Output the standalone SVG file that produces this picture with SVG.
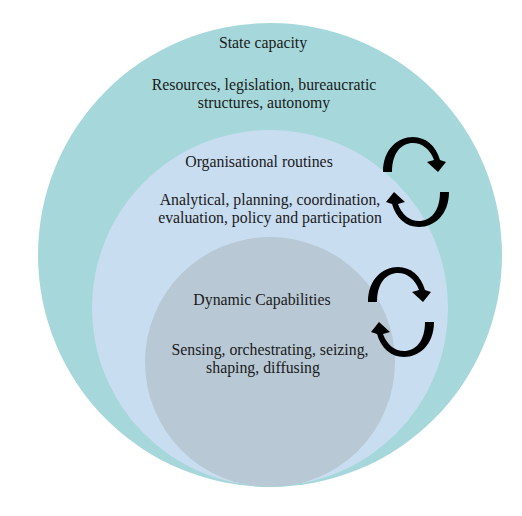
<svg xmlns="http://www.w3.org/2000/svg" width="522" height="516" viewBox="0 0 522 516">
<style>
.t{font-family:'Liberation Serif','DejaVu Serif',serif;font-size:15.8px;fill:#1a1a1a;text-anchor:middle}
.arr{fill:#000}
</style>
<defs>
<g id="cycle">
<path class="arr" d="M -33,-10 C -33,-33 -18,-45 -3,-45 C 10,-45 20,-36 24,-22 L 30,-20 L 22,-10 L 11,-20 L 18,-22 C 14,-33 6,-39 -3,-39 C -14,-39 -24,-30 -24,-10 Z"/>
<path class="arr" transform="rotate(180)" d="M -33,-10 C -33,-33 -18,-45 -3,-45 C 10,-45 20,-36 24,-22 L 30,-20 L 22,-10 L 11,-20 L 18,-22 C 14,-33 6,-39 -3,-39 C -14,-39 -24,-30 -24,-10 Z"/>
</g>
</defs>
<rect width="522" height="516" fill="#fff"/>
<g id="state-capacity">
<circle cx="270" cy="255" r="232" fill="#A6D8DB"/>
<text class="t" font-family="Liberation Serif, serif" x="263" y="48">State capacity</text>
<text class="t" font-family="Liberation Serif, serif" x="264" y="90">Resources, legislation, bureaucratic</text>
<text class="t" font-family="Liberation Serif, serif" x="264" y="108">structures, autonomy</text>
</g>
<g id="organisational-routines">
<circle cx="270" cy="308" r="178" fill="#C9DDF1"/>
<text class="t" font-family="Liberation Serif, serif" x="259" y="167">Organisational routines</text>
<text class="t" font-family="Liberation Serif, serif" x="270" y="205">Analytical, planning, coordination,</text>
<text class="t" font-family="Liberation Serif, serif" x="270" y="223">evaluation, policy and participation</text>
</g>
<g id="dynamic-capabilities">
<circle cx="270" cy="362" r="125" fill="#B8C9D5"/>
<text class="t" font-family="Liberation Serif, serif" x="262" y="305">Dynamic Capabilities</text>
<text class="t" font-family="Liberation Serif, serif" x="270" y="355">Sensing, orchestrating, seizing,</text>
<text class="t" font-family="Liberation Serif, serif" x="263" y="373">shaping, diffusing</text>
</g>
<g id="connectors">
<use href="#cycle" transform="translate(416,182)"/>
<use href="#cycle" transform="translate(401,312)"/>
</g>
</svg>
